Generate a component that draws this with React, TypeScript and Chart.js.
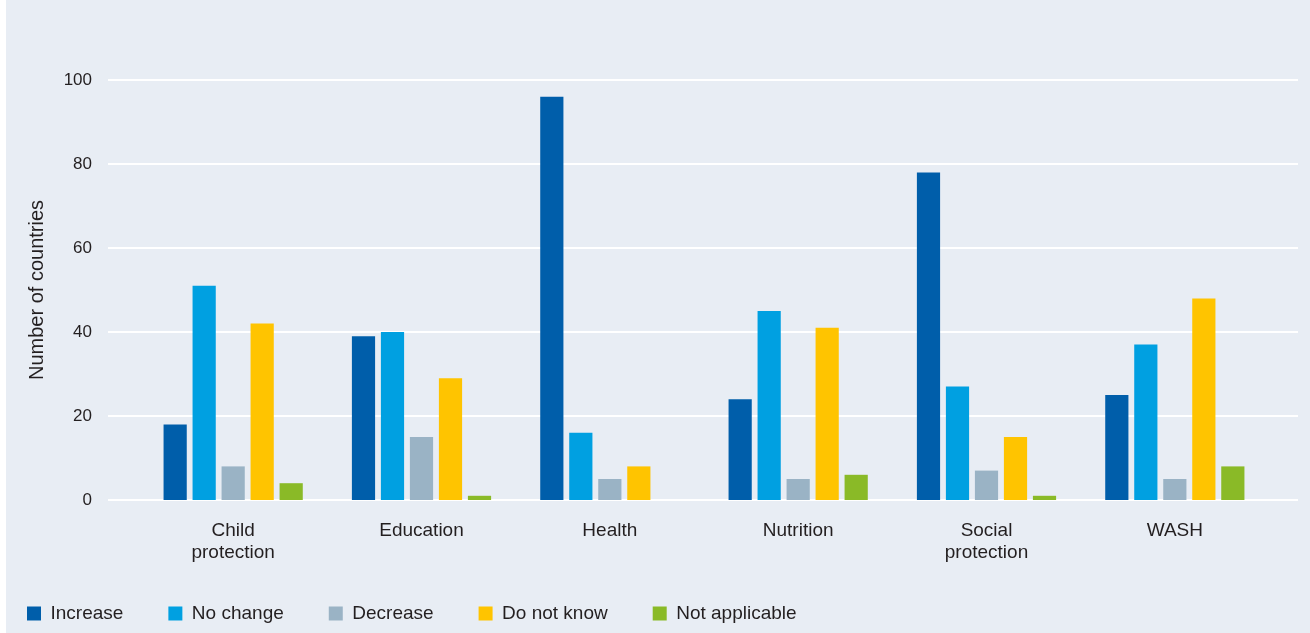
import React, { useEffect, useRef } from 'react';
import { Chart, registerables } from 'chart.js';

Chart.register(...registerables);

const categories: (string | string[])[] = [
  ['Child', 'protection'],
  'Education',
  'Health',
  'Nutrition',
  ['Social', 'protection'],
  'WASH',
];
const seriesNames = ['Increase', 'No change', 'Decrease', 'Do not know', 'Not applicable'];
const increase = [18, 39, 96, 24, 78, 25];
const noChange = [51, 40, 16, 45, 27, 37];
const decrease = [8, 15, 5, 5, 7, 5];
const doNotKnow = [42, 29, 8, 41, 15, 48];
const notApplicable = [4, 1, 0, 6, 1, 8];
const seriesColors = ['#005eaa', '#00a0e1', '#9ab3c5', '#ffc400', '#8aba27'];
const yMin = 0;
const yMax = 100;
const yStep = 20;
const yTitle = 'Number of countries';

const FONT = '"Liberation Sans", Arial, Helvetica, sans-serif';
const TEXT = '#231f20';
const PANEL = '#e8edf4';

const gridPlugin = {
  id: 'extGrid',
  beforeDatasetsDraw(chart: any) {
    const { ctx, chartArea, scales } = chart;
    const y = scales.y;
    ctx.save();
    ctx.strokeStyle = '#ffffff';
    ctx.lineWidth = 2.2;
    y.ticks.forEach((t: any) => {
      const py = Math.round(y.getPixelForValue(t.value));
      ctx.beginPath();
      ctx.moveTo(chartArea.left - 31, py);
      ctx.lineTo(chartArea.right + 29, py);
      ctx.stroke();
    });
    ctx.restore();
  },
};

export default function App() {
  const ref = useRef<HTMLCanvasElement | null>(null);

  useEffect(() => {
    document.body.style.margin = '0';
    if (!ref.current) return;
    const values = [increase, noChange, decrease, doNotKnow, notApplicable];
    const chart = new Chart(ref.current, {
      type: 'bar',
      data: {
        labels: categories as any,
        datasets: seriesNames.map((name, i) => ({
          label: name,
          data: values[i],
          backgroundColor: seriesColors[i],
          borderWidth: 0,
          barPercentage: 0.8,
          categoryPercentage: 0.77,
        })),
      },
      options: {
        animation: false,
        responsive: false,
        maintainAspectRatio: false,
        layout: { padding: { left: 0, right: 41, top: 80, bottom: 0 } },
        plugins: {
          tooltip: { enabled: false },
          legend: {
            position: 'bottom',
            align: 'start',
            labels: {
              boxWidth: 14,
              boxHeight: 14,
              padding: 45,
              color: TEXT,
              font: { family: FONT, size: 19 },
            },
          },
        },
        scales: {
          x: {
            grid: { display: false, drawTicks: false },
            border: { display: false },
            ticks: {
              color: TEXT,
              font: { family: FONT, size: 19, lineHeight: 22 / 19 },
              padding: 20,
              maxRotation: 0,
              autoSkip: false,
            },
            afterFit(s: any) {
              s.height = 59;
              // let the two-line category labels run past the scale box
              s._computeLabelArea = () => undefined;
            },
          },
          y: {
            min: yMin,
            max: yMax,
            grid: { display: false, drawTicks: false },
            border: { display: false },
            ticks: {
              stepSize: yStep,
              color: TEXT,
              font: { family: FONT, size: 17 },
              padding: 47,
            },
            title: {
              display: true,
              text: yTitle,
              color: TEXT,
              font: { family: FONT, size: 20, lineHeight: 1.2 },
              padding: { top: 43, bottom: 0 },
            },
            afterFit(s: any) {
              s.width = 157;
            },
          },
        },
      },
      plugins: [gridPlugin],
    });
    return () => chart.destroy();
  }, []);

  return (
    <div style={{ position: 'relative', width: 1310, height: 633, overflow: 'hidden', background: '#ffffff' }}>
      <div style={{ position: 'absolute', left: 6, top: 0, right: 0, bottom: 0, background: PANEL }} />
      <div style={{ position: 'absolute', left: -18, top: 0, width: 1328, height: 633 }}>
        <canvas ref={ref} width={1328} height={633} style={{ display: 'block', width: 1328, height: 633 }} />
      </div>
    </div>
  );
}
